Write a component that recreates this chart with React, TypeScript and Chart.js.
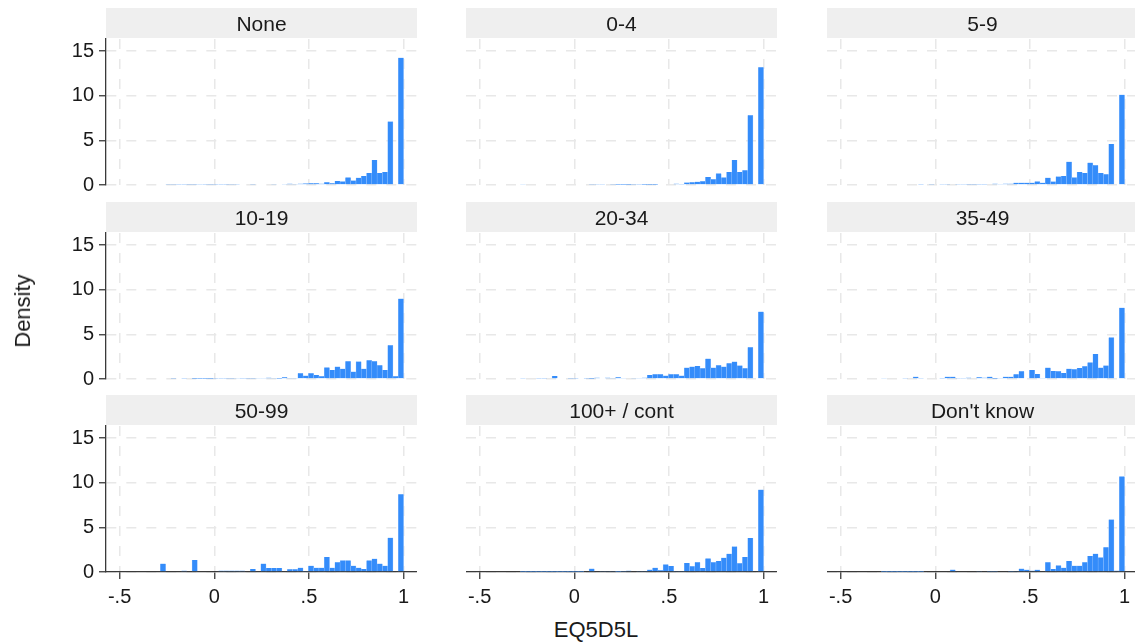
import React, { useEffect, useRef } from "react";
import { Chart, registerables } from "chart.js";

Chart.register(...registerables);

// ---------- data ----------
const PANEL_TITLES = ["None", "0-4", "5-9", "10-19", "20-34", "35-49", "50-99", "100+ / cont", "Don't know"];

// histogram bin midpoints (46 bins from -0.285 to 1)
const BIN_MIDPOINTS = [
  -0.2710, -0.2431, -0.2152, -0.1872, -0.1593, -0.1314, -0.1034, -0.0755, -0.0476, -0.0196,
  0.0083, 0.0363, 0.0642, 0.0921, 0.1201, 0.1480, 0.1759, 0.2039, 0.2318, 0.2597,
  0.2877, 0.3156, 0.3435, 0.3715, 0.3994, 0.4273, 0.4553, 0.4832, 0.5111, 0.5391,
  0.5670, 0.5949, 0.6229, 0.6508, 0.6788, 0.7067, 0.7346, 0.7626, 0.7905, 0.8184,
  0.8464, 0.8743, 0.9022, 0.9302, 0.9581, 0.9860,
];

const DENSITY_NONE = [
  0.08, 0.06, 0.06, 0.05, 0.05, 0.05, 0.05, 0.06, 0.05, 0.05,
  0.05, 0.05, 0.05, 0.06, 0.06, 0.07, 0.07, 0.06, 0.08, 0.08,
  0.09, 0.10, 0.08, 0.10, 0.15, 0.10, 0.15, 0.18, 0.20, 0.20,
  0.15, 0.30, 0.20, 0.45, 0.40, 0.85, 0.50, 0.80, 1.00, 1.35,
  2.80, 1.35, 1.45, 7.10, 0, 14.25,
];
const DENSITY_0_4 = [
  0.10, 0, 0, 0, 0.08, 0, 0.08, 0.08, 0, 0.08,
  0.08, 0, 0, 0.06, 0.06, 0.06, 0, 0.06, 0.03, 0.03,
  0.03, 0.05, 0.05, 0.03, 0.03, 0.04, 0.08, 0.08, 0.08, 0.15,
  0.06, 0.27, 0.30, 0.35, 0.42, 0.90, 0.65, 1.30, 0.85, 1.45,
  2.80, 1.45, 1.65, 7.80, 0, 13.20,
];
const DENSITY_5_9 = [
  0.08, 0, 0, 0, 0, 0, 0.08, 0.05, 0, 0.06,
  0, 0.06, 0.06, 0.07, 0.06, 0.06, 0.05, 0.05, 0.05, 0.05,
  0.08, 0.15, 0.10, 0.15, 0.15, 0.25, 0.25, 0.25, 0.25, 0.40,
  0.25, 0.80, 0.38, 0.95, 1.00, 2.60, 0.85, 1.45, 1.35, 2.50,
  2.20, 1.35, 1.20, 4.60, 0, 10.10,
];
const DENSITY_10_19 = [
  0, 0, 0.05, 0, 0.05, 0, 0.04, 0.04, 0.04, 0.04,
  0.05, 0.05, 0.05, 0.05, 0.12, 0.05, 0.05, 0.05, 0.10, 0.10,
  0.15, 0.10, 0.03, 0.20, 0.10, 0.10, 0.63, 0.37, 0.63, 0.45,
  0.30, 1.30, 1.00, 1.38, 1.15, 2.00, 0.82, 1.95, 1.15, 2.10,
  1.98, 1.53, 1.00, 3.77, 0.30, 9.00,
];
const DENSITY_20_34 = [
  0.06, 0, 0, 0.05, 0.05, 0, 0.33, 0, 0, 0.05,
  0.05, 0.07, 0.05, 0.02, 0.15, 0.07, 0.15, 0.12, 0.20, 0.12,
  0.07, 0.10, 0.10, 0.15, 0.45, 0.52, 0.52, 0.37, 0.52, 0.52,
  0.37, 1.27, 1.38, 1.45, 1.20, 2.28, 1.27, 1.53, 1.38, 1.75,
  1.94, 1.50, 1.20, 3.55, 0, 7.54,
];
const DENSITY_35_49 = [
  0.10, 0, 0, 0, 0.06, 0, 0.25, 0.06, 0, 0.08,
  0, 0.05, 0.25, 0.25, 0.06, 0.06, 0.15, 0.08, 0.20, 0.15,
  0.25, 0.03, 0.10, 0.25, 0.25, 0.52, 0.86, 0, 1.00, 0.56,
  0.10, 1.27, 0.90, 0.86, 0.67, 1.15, 1.08, 1.23, 1.42, 1.86,
  2.80, 1.27, 1.50, 4.66, 0, 7.98,
];
const DENSITY_50_99 = [
  0.93, 0, 0, 0, 0.15, 0, 1.34, 0, 0, 0,
  0, 0.15, 0.15, 0.15, 0.15, 0.15, 0, 0.34, 0.07, 0.93,
  0.45, 0.45, 0.45, 0, 0.30, 0.30, 0.48, 0.10, 0.70, 0.48,
  0.48, 1.67, 0.48, 1.10, 1.30, 1.30, 0.70, 0.48, 0.34, 1.30,
  1.48, 0.93, 0.70, 3.83, 0, 8.70,
];
const DENSITY_100_CONT = [
  0.03, 0.03, 0.03, 0.03, 0.03, 0.03, 0.03, 0.03, 0.03, 0.03,
  0.03, 0.03, 0, 0.37, 0, 0.10, 0.12, 0.12, 0.03, 0.05,
  0.15, 0, 0.10, 0.12, 0.26, 0.48, 0.20, 0.85, 0.67, 0.12,
  0.12, 1.00, 0.63, 1.10, 0.45, 1.52, 1.10, 1.22, 1.60, 2.04,
  2.86, 0.97, 1.67, 3.80, 0, 9.22,
];
const DENSITY_DONT_KNOW = [
  0.03, 0.03, 0.03, 0.03, 0.03, 0.03, 0.03, 0.03, 0, 0,
  0, 0, 0, 0.26, 0, 0, 0, 0, 0.10, 0,
  0.05, 0.05, 0, 0, 0.05, 0.12, 0.37, 0.25, 0.15, 0.25,
  0, 1.10, 0.33, 0.74, 0.48, 1.22, 0.70, 0.70, 1.10, 1.78,
  2.04, 1.63, 2.78, 5.87, 0.15, 10.70,
];

const PANEL_VALUES = [
  DENSITY_NONE, DENSITY_0_4, DENSITY_5_9,
  DENSITY_10_19, DENSITY_20_34, DENSITY_35_49,
  DENSITY_50_99, DENSITY_100_CONT, DENSITY_DONT_KNOW,
];

const Y_TICKS = [0, 5, 10, 15];
const Y_TICK_LABELS = ["0", "5", "10", "15"];
const X_TICKS = [-0.5, 0, 0.5, 1];
const X_TICK_LABELS = ["-.5", "0", ".5", "1"];
const X_TITLE = "EQ5D5L";
const Y_TITLE = "Density";

// ---------- layout & style ----------
const X_MIN = -0.572;
const X_MAX = 1.071;
const Y_MIN = 0;
const Y_MAX = 16.35;

const COL_LEFT = [106, 466, 827];
const ROW_TOP = [8, 202, 395];
const PLOT_W = 311;
const PLOT_H = 146;
const HEADER_H = 31;
const XAXIS_H = 40;
const BOTTOM_PAD = 14;

const FONT = "'Liberation Sans', Arial, Helvetica, sans-serif";
const TEXT_COLOR = "#1a1a1a";
const AXIS_COLOR = "#3a3a3a";
const GRID_COLOR = "#e8e8e8";
const HEADER_BG = "#efefef";
const BAR_COLOR = "rgb(52,140,250)";
const BAR_EDGE = "rgb(150,195,255)";

const headerPlugin = {
  id: "panelHeader",
  beforeDraw(chart: any) {
    const { ctx, chartArea } = chart;
    const tb = chart.titleBlock;
    if (!tb || !chartArea) return;
    ctx.save();
    ctx.fillStyle = HEADER_BG;
    ctx.fillRect(chartArea.left, tb.top, chartArea.right - chartArea.left, tb.height - 1);
    ctx.restore();
  },
};

function Panel({ title, values, col, row }: { title: string; values: number[]; col: number; row: number }) {
  const ref = useRef<HTMLCanvasElement>(null);
  const isLeft = col === 0;
  const isBottom = row === 2;
  const left = isLeft ? 0 : COL_LEFT[col];
  const width = isLeft ? COL_LEFT[0] + PLOT_W : PLOT_W;
  const height = HEADER_H + PLOT_H + (isBottom ? XAXIS_H : BOTTOM_PAD);

  useEffect(() => {
    if (!ref.current) return;
    const chart = new Chart(ref.current, {
      type: "bar",
      data: {
        datasets: [
          {
            data: BIN_MIDPOINTS.map((x, i) => ({ x, y: values[i] })),
            backgroundColor: BAR_COLOR,
            borderColor: BAR_EDGE,
            borderWidth: { left: 0.5, right: 0.5, top: 0, bottom: 0 },
            barPercentage: 1,
            categoryPercentage: 1,
          } as any,
        ],
      },
      options: {
        responsive: false,
        animation: false,
        devicePixelRatio: 1,
        events: [],
        layout: { padding: { left: 0, right: 0, top: 0, bottom: isBottom ? 0 : BOTTOM_PAD } },
        plugins: {
          legend: { display: false },
          tooltip: { enabled: false },
          title: {
            display: true,
            text: title,
            fullSize: false,
            color: TEXT_COLOR,
            font: { family: FONT, size: 21, weight: "normal", lineHeight: 1.2 },
            padding: { top: 5, bottom: 0.8 },
          },
        },
        scales: {
          x: {
            type: "linear",
            min: X_MIN,
            max: X_MAX,
            offset: false,
            afterBuildTicks: (s: any) => {
              s.ticks = X_TICKS.map((v) => ({ value: v }));
            },
            afterFit: (s: any) => {
              s.height = isBottom ? XAXIS_H : 0;
              s.paddingLeft = 0;
              s.paddingRight = 0;
            },
            grid: {
              display: true,
              offset: false,
              color: GRID_COLOR,
              lineWidth: 1.5,
              drawTicks: isBottom,
              tickLength: 7,
              tickColor: AXIS_COLOR,
              tickWidth: 1.3,
              tickBorderDash: [],
            },
            border: { display: isBottom, color: AXIS_COLOR, width: 1.3, dash: [10, 10] },
            ticks: {
              display: isBottom,
              padding: 6,
              maxRotation: 0,
              autoSkip: false,
              color: TEXT_COLOR,
              font: { family: FONT, size: 20 },
              callback: (v: any) => X_TICK_LABELS[X_TICKS.indexOf(Number(v))] ?? "",
            },
          },
          y: {
            type: "linear",
            min: Y_MIN,
            max: Y_MAX,
            afterBuildTicks: (s: any) => {
              s.ticks = Y_TICKS.map((v) => ({ value: v }));
            },
            afterFit: (s: any) => {
              s.width = isLeft ? COL_LEFT[0] : 0;
              s.paddingTop = 0;
              s.paddingBottom = 0;
            },
            grid: {
              display: true,
              color: GRID_COLOR,
              lineWidth: 1.5,
              drawTicks: isLeft,
              tickLength: 7,
              tickColor: AXIS_COLOR,
              tickWidth: 1.3,
              tickBorderDash: [],
            },
            border: { display: isLeft, color: AXIS_COLOR, width: 1.3, dash: [10, 10] },
            ticks: {
              display: isLeft,
              padding: 5,
              color: TEXT_COLOR,
              font: { family: FONT, size: 20 },
              callback: (v: any) => Y_TICK_LABELS[Y_TICKS.indexOf(Number(v))] ?? "",
            },
          },
        },
      } as any,
      plugins: [headerPlugin],
    });
    return () => chart.destroy();
  }, []);

  return (
    <canvas
      ref={ref}
      width={width}
      height={height}
      style={{ position: "absolute", left, top: ROW_TOP[row], width, height, display: "block" }}
    />
  );
}

export default function App() {
  return (
    <div
      style={{
        position: "absolute",
        left: 0,
        top: 0,
        width: 1135,
        height: 643,
        overflow: "hidden",
        background: "#ffffff",
      }}
    >
      {PANEL_TITLES.map((t, i) => (
        <Panel key={t} title={t} values={PANEL_VALUES[i]} col={i % 3} row={Math.floor(i / 3)} />
      ))}
      <div
        style={{
          position: "absolute",
          left: 23,
          top: 311,
          transform: "translate(-50%, -50%) rotate(-90deg)",
          font: `22px ${FONT}`,
          color: TEXT_COLOR,
          whiteSpace: "nowrap",
        }}
      >
        {Y_TITLE}
      </div>
      <div
        style={{
          position: "absolute",
          left: 596,
          top: 630,
          transform: "translate(-50%, -50%)",
          font: `22px ${FONT}`,
          color: TEXT_COLOR,
          whiteSpace: "nowrap",
        }}
      >
        {X_TITLE}
      </div>
    </div>
  );
}
